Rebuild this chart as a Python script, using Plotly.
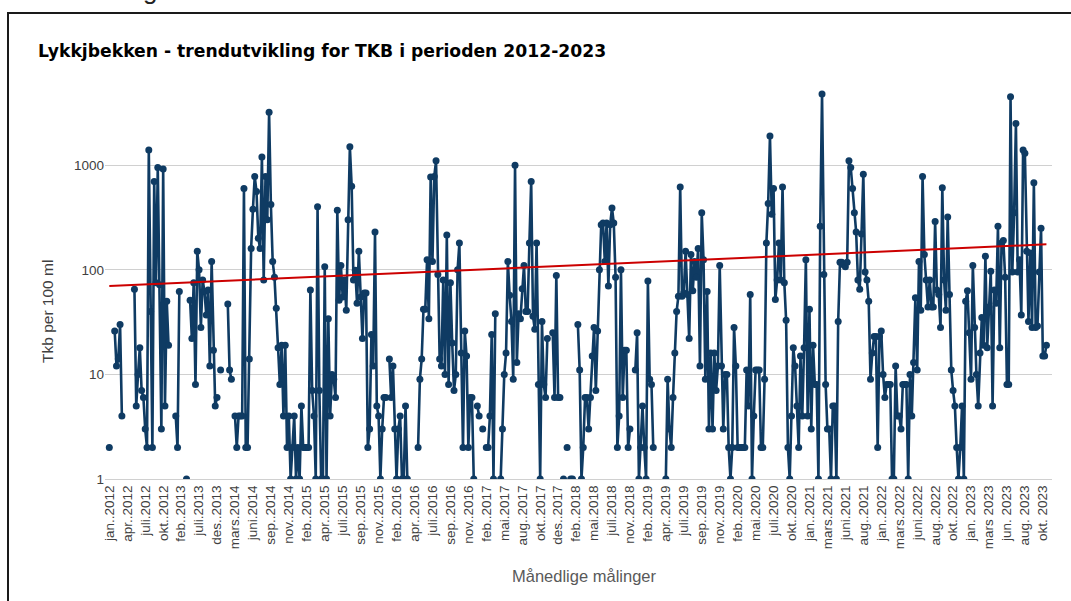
import plotly.graph_objects as go

# TKB (termotolerante koliforme bakterier) per 100 ml, one value per sample, in sampling order.
# None = no sample / missing value (gap in the line).
tkb_2012 = [2, None, None, 26, 12, 14, 30, 4, None, None, None, None, None, None, 65, 5, 10, 18, 7, 6,
            3, 2, 1400, 40, 2, 700, 75, 950, 72, 3, 920, 5, 50, 19, None, None, None]
tkb_2013 = [4, 2, 62, None, None, None, 1, None, 51, 22, 75, 8, 150, 100, 28, 80, 62, 37, 64, 12,
            120, 17, 5, 6, None, 11, None, None]
tkb_2014 = [None, 47, 11, 9, None, 4, 2, 4, 4, 4, 600, 2, 2, 14, 160, 380, 780, 560, 200, 160,
            1200, 80, 780, 300, 3200, 420, 120, 85, 43, 18, 8, 19, 4, 19, 2, 4, 1, 2, 4, 1, 2]
tkb_2015 = [1, 5, 2, 2, 2, 2, 64, 7, 4, 1, 400, 7, 1, 1, 107, 1, 34, 4, 10, 9,
            6, 370, 51, 110, 55, 80, 41, 300, 1500, 630, 80, 99, 48, 150, 55, 22, 60, 60, 2, 3,
            24, 12, 230, 5, 4, 1, 3, 6, 6, None]
tkb_2016 = [14, 6, 12, 3, 1, 3, 4, 1, 1, 5, 1, None, None, None, None, None, 2, 9, 14, 42,
            42, 125, 34, 770, 120, 780, 1100, 90, 14, 12, 80, 10, 215, 8, 75, 20, 7, 10, 100, 180,
            16, 2, 26, 15, 2, 6, 6, 1, None, 5, 4]
tkb_2017 = [None, 3, None, 2, 2, 4, 24, 1, 38, None, None, 1, 3, 10, 16, 120, 57, 32, 9, 1000,
            13, 38, 34, 66, 110, 40, 40, 180, 700, 36, 27, 180, 8, 1, 32, 8, 6, 22, None, None,
            25, 6, 88, 6, 6, None, 1, None, 2]
tkb_2018 = [None, 1, 1, None, None, 30, 11, 1, 2, 6, 6, 3, 6, 15, 28, 7, 26, 100, 270, 280,
            120, 280, 70, 270, 390, 280, 85, 2, 4, 100, 6, 17, 17, 2, 3, None, None, 11, 25, 1, 2]
tkb_2019 = [5, 2, 1, 78, 9, 8, 2, None, None, None, None, None, None, 1, 9, 3, 2, 6, 16, 40,
            56, 620, 56, 60, 150, 58, 22, 140, 63, 120, 85, 160, 12, 350, 125, 9, 62, 3, 16, 3,
            16, 7, 12, 110, 12, 3, 10, 10, 2]
tkb_2020 = [1, 2, 28, 12, 2, 2, 2, 2, 2, 11, 5, 58, 1, 4, 11, 11, 11, 2, 2, 9,
            180, 430, 1900, 340, 600, 52, 80, 180, 80, 620, 75, 33, 2, 1, 4, 18, 12, 5, 2, 15,
            4, 18, 125, 4]
tkb_2021 = [42, 3, 19, 8, 8, 1, 260, 4800, 90, 8, 3, 3, 1, 5, 5, 1, 32, 118, 118, 112,
            107, 118, 1100, 950, 600, 350, 230, 80, 65, 220, 820, 95, 80, 50, 9, 16, 23, 23, 2]
tkb_2022 = [23, 26, 10, 6, 8, 8, 8, 1, 1, 12, 4, 4, 3, 8, 8, 8, 1, 10, 4, 13,
            54, 11, 120, 41, 780, 140, 80, 44, 80, 44, 44, 290, 64, 58, 28, 610, 80, 41, 320, 58,
            11, 7, 5, 2, 1, 2, 5, 1, 50]
tkb_2023 = [63, 25, 9, 110, 28, 10, 5, 16, 35, 19, 135, 18, 44, 97, 5, 64, 48, 260, 18, 180,
            190, 85, 8, 8, 4500, 95, 350, 2500, 95, 125, 37, 1400, 1300, 150, 32, 145, 28, 680, 28, 29,
            95, 250, 15, 15, 19]

# Exponential trend (value at first and last sample)
trend_tkb = [70, 175]

# Category labels, one shown for every 10th sample
tick_labels = ["jan..2012", "apr..2012", "juli.2012", "okt..2012", "feb..2013", "juli.2013", "des..2013",
               "mars.2014", "juni.2014", "sep..2014", "nov..2014", "feb..2015", "apr..2015", "juli.2015",
               "sep..2015", "nov..2015", "feb..2016", "apr..2016", "juli.2016", "sep..2016", "nov..2016",
               "feb..2017", "mai.2017", "aug..2017", "okt..2017", "des..2017", "feb..2018", "mai.2018",
               "juli.2018", "nov..2018", "feb..2019", "apr..2019", "juli.2019", "sep..2019", "nov..2019",
               "feb..2020", "mai.2020", "juli.2020", "okt..2020", "jan..2021", "mars.2021", "juni.2021",
               "aug..2021", "jan..2022", "mars.2022", "juni.2022", "aug..2022", "okt..2022", "jan. 2023",
               "mars 2023", "jun. 2023", "aug. 2023", "okt. 2023"]
label_every = 10

tkb = (tkb_2012 + tkb_2013 + tkb_2014 + tkb_2015 + tkb_2016 + tkb_2017 +
       tkb_2018 + tkb_2019 + tkb_2020 + tkb_2021 + tkb_2022 + tkb_2023)
sample_no = list(range(len(tkb)))
label_pos = sample_no[::label_every][:len(tick_labels)]

W, H = 1071, 601
PL, PR, PT, PB = 105, 1052, 84, 479      # plot area in pixels
FONT = "Liberation Sans, Arial, Helvetica, sans-serif"
TITLE_FONT = "DejaVu Sans, Verdana, sans-serif"
NAVY = "#0f3b63"


def px_x(x):
    return (x - PL) / (PR - PL)


def px_y(y):
    return (PB - y) / (PB - PT)


fig = go.Figure()
fig.add_trace(go.Scatter(
    x=sample_no, y=tkb, mode="lines+markers", connectgaps=False,
    line=dict(color=NAVY, width=2.6), marker=dict(color=NAVY, size=7),
    hoverinfo="skip", showlegend=False, cliponaxis=True))
fig.add_trace(go.Scatter(
    x=[sample_no[0], sample_no[-1]], y=trend_tkb, mode="lines",
    line=dict(color="#cc0000", width=2), hoverinfo="skip", showlegend=False))

fig.update_layout(
    width=W, height=H,
    margin=dict(l=PL, r=W - PR, t=PT, b=H - PB),
    paper_bgcolor="white", plot_bgcolor="white",
    font=dict(family=FONT, color="#404040"),
    xaxis=dict(
        range=[-2.4, len(tkb) + 2.1], tickmode="array", tickvals=label_pos, ticktext=tick_labels,
        tickangle=-90, tickfont=dict(size=13.5, color="#404040"), showgrid=False, zeroline=False,
        showline=True, linecolor="#d0d0d0", linewidth=1, ticks="", automargin=False),
    yaxis=dict(
        type="log", range=[0, 3.776], tickmode="array", tickvals=[1, 10, 100, 1000],
        ticktext=["1", "10", "100", "1000"], tickfont=dict(size=13.5, color="#404040"),
        showgrid=True, gridcolor="#d0d0d0", gridwidth=1, zeroline=False, showline=False,
        ticks="", automargin=False),
    annotations=[
        dict(text="<b>Lykkjbekken - trendutvikling for TKB i perioden 2012-2023</b>",
             xref="paper", yref="paper", x=px_x(36), y=px_y(51), xanchor="left", yanchor="middle",
             showarrow=False, font=dict(size=17.2, color="#000000", family=TITLE_FONT)),
        dict(text="Tkb per 100 ml", xref="paper", yref="paper", x=px_x(47), y=px_y(312),
             xanchor="center", yanchor="middle", textangle=-90, showarrow=False,
             font=dict(size=15.5, color="#404040", family=FONT)),
        dict(text="Månedlige målinger", xref="paper", yref="paper", x=px_x(584), y=px_y(576),
             xanchor="center", yanchor="middle", showarrow=False,
             font=dict(size=16.5, color="#595959", family=FONT)),
        # descender of the page heading above the chart frame
        dict(text="g", xref="paper", yref="paper", x=px_x(150), y=px_y(7), xanchor="center",
             yanchor="bottom", showarrow=False, font=dict(size=26, color="#222222", family=FONT)),
    ],
    shapes=[
        dict(type="rect", xref="paper", yref="paper", x0=px_x(8), x1=px_x(1080),
             y0=px_y(620), y1=px_y(13), line=dict(color="#1a1a1a", width=2), layer="above"),
    ],
)

fig.write_html("out.html")
